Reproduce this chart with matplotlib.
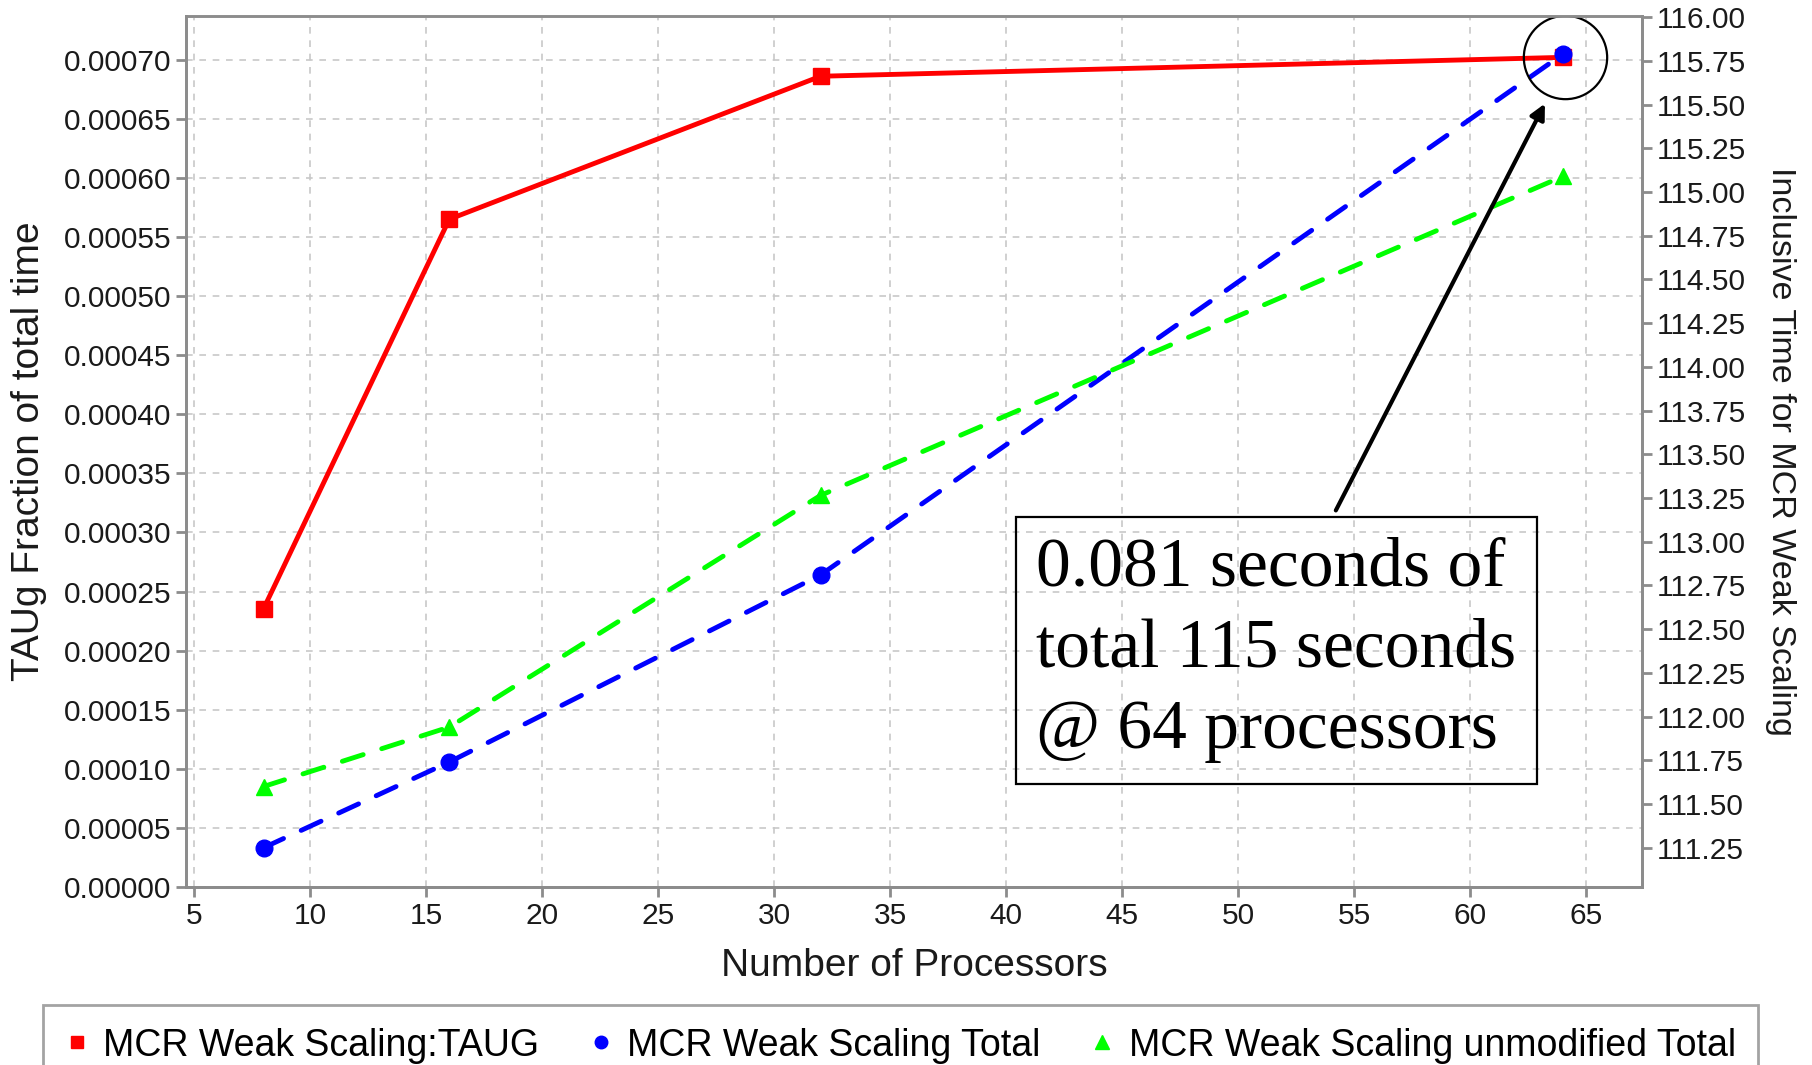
import matplotlib.pyplot as plt
from matplotlib.lines import Line2D
from matplotlib.ticker import FormatStrFormatter, MultipleLocator

# Datos
procesadores = [8, 16, 32, 64]
taug_fraccion = [0.0002356, 0.000565, 0.000686, 0.000702]
total_tiempo = [111.25, 111.74, 112.81, 115.79]
sin_modificar = [111.60, 111.94, 113.265, 115.09]

etiquetas = ['MCR Weak Scaling:TAUG', 'MCR Weak Scaling Total',
             'MCR Weak Scaling unmodified Total']
nota = '0.081 seconds of\ntotal 115 seconds\n@ 64 processors'

plt.rcParams['font.family'] = ['Liberation Sans', 'DejaVu Sans']

fig = plt.figure(figsize=(18.12, 10.65), dpi=100)
ax = fig.add_axes([0.1026, 0.1671, 0.8036, 0.8179])
ax2 = ax.twinx()

gris = '#8c8c8c'
ax.plot(procesadores, taug_fraccion, color='#ff0000', lw=3.5, marker='s', ms=12,
        zorder=5)
ax2.plot(procesadores, total_tiempo, color='#0000ff', lw=3.5, dashes=(4.5, 4),
         dash_capstyle='round', marker='o', ms=12)
ax2.plot(procesadores, sin_modificar, color='#00ff00', lw=3.5, dashes=(4.5, 4),
         dash_capstyle='round', marker='^', ms=12)

ax.set_xlim(4.65, 67.4)
ax.set_ylim(0, 0.000737)
ax2.set_ylim(111.025, 116.007)

ax.xaxis.set_major_locator(MultipleLocator(5))
ax.yaxis.set_major_locator(MultipleLocator(0.00005))
ax.yaxis.set_major_formatter(FormatStrFormatter('%.5f'))
ax2.yaxis.set_major_locator(MultipleLocator(0.25))
ax2.yaxis.set_major_formatter(FormatStrFormatter('%.2f'))
ax2.set_yticks([t for t in ax2.get_yticks() if 111.2 < t < 116.01])

ax.grid(True, color='#c8c8c8', ls=(0, (4, 4)), lw=1.2)
ax.set_axisbelow(True)

for a in (ax, ax2):
    for lado in a.spines.values():
        lado.set_color(gris)
        lado.set_linewidth(2)
    a.tick_params(colors=gris, labelcolor='#1a1a1a', labelsize=21.5,
                  length=7, width=2, direction='out')
ax.spines['top'].set_color('#bbbbbb')

ax.set_xlabel('Number of Processors', fontsize=28, color='#1a1a1a', labelpad=13)
ax.set_ylabel('TAUg Fraction of total time', fontsize=28, color='#1a1a1a',
              labelpad=12)
ax2.set_ylabel('Inclusive Time for MCR Weak Scaling', fontsize=24.5,
               color='#1a1a1a', rotation=270, labelpad=36)

# Nota con flecha y círculo
ax2.plot(64.06, 115.77, 'o', ms=60, mfc='none', mec='black', mew=1.6)
ax2.annotate('', xy=(63.27, 115.52), xytext=(54.15, 113.165),
             arrowprops=dict(arrowstyle='-|>,head_length=0.9,head_width=0.45',
                             color='black', lw=3))
ax2.text(41.3, 112.38, nota, fontsize=50, family='Liberation Serif',
         va='center', ha='left', linespacing=1.36, zorder=10,
         bbox=dict(boxstyle='square,pad=0.3', fc='none', ec='black', lw=1.6))

# Leyenda
manejadores = [
    Line2D([], [], ls='none', marker='s', color='#ff0000', ms=8),
    Line2D([], [], ls='none', marker='o', color='#0000ff', ms=9),
    Line2D([], [], ls='none', marker='^', color='#00ff00', ms=10),
]
ley = fig.legend(manejadores, etiquetas, loc='upper center',
                 bbox_to_anchor=(0.497, 0.0563), ncol=3, fontsize=27,
                 handlelength=0.6, handletextpad=0.4, columnspacing=1.35,
                 fancybox=False, borderpad=0.6, borderaxespad=0, frameon=True)
ley.get_frame().set_edgecolor(gris)
ley.get_frame().set_linewidth(2)

plt.savefig('out.png', dpi=100)
plt.close()
